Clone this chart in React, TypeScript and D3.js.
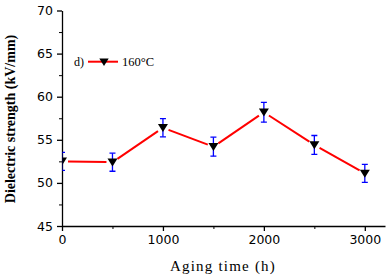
import { useEffect, useRef } from 'react';
import * as d3 from 'd3';

// Aging time (h) vs dielectric strength at 160°C
const agingTimes = [0, 500, 1000, 1500, 2000, 2500, 3000];
const strength = [52.5, 52.4, 56.4, 54.2, 58.2, 54.4, 51.1];
const strengthErr = [1.05, 1.05, 1.05, 1.1, 1.15, 1.1, 1.05];

const xTicks = [0, 1000, 2000, 3000];
const xMinorTicks = [500, 1500, 2500];
const yTicks = [45, 50, 55, 60, 65, 70];
const yMinorTicks = [47.5, 52.5, 57.5, 62.5, 67.5];

const panelLabel = 'd)';
const seriesLabel = '160°C';
const xTitle = 'Aging time (h)';
const yTitle = 'Dielectric strength (kV/mm)';

const W = 390;
const H = 280;
const margin = { top: 10.5, right: 5, bottom: 54, left: 62 };

const tickFont = '"DejaVu Sans", Verdana, sans-serif';
const serifFont = '"Liberation Serif", "Times New Roman", serif';

export default function App() {
  const svgRef = useRef<SVGSVGElement>(null);

  useEffect(() => {
    if (!svgRef.current) return;
    const svg = d3.select(svgRef.current);
    svg.selectAll('*').remove();

    const x = d3.scaleLinear().domain([0, 3200]).range([margin.left, W - margin.right]);
    const y = d3.scaleLinear().domain([45, 70]).range([H - margin.bottom, margin.top]);

    const data = agingTimes.map((t, i) => ({ t, v: strength[i], e: strengthErr[i] }));

    // clip so the first point is cut at the y axis
    svg.append('defs').append('clipPath').attr('id', 'plot-clip')
      .append('rect')
      .attr('x', margin.left + 0.5)
      .attr('y', 0)
      .attr('width', W - margin.left)
      .attr('height', H - margin.bottom);

    // axes
    const xAxis = svg.append('g')
      .attr('transform', `translate(0,${H - margin.bottom})`)
      .call(d3.axisBottom(x).tickValues(xTicks).tickSize(5).tickSizeOuter(0).tickPadding(4).tickFormat(d3.format('d')));
    svg.append('g')
      .attr('transform', `translate(0,${H - margin.bottom})`)
      .call(d3.axisBottom(x).tickValues(xMinorTicks).tickSize(3).tickFormat(() => ''))
      .call(g => g.select('.domain').remove());

    const yAxis = svg.append('g')
      .attr('transform', `translate(${margin.left},0)`)
      .call(d3.axisLeft(y).tickValues(yTicks).tickSize(5).tickSizeOuter(0).tickPadding(4));
    svg.append('g')
      .attr('transform', `translate(${margin.left},0)`)
      .call(d3.axisLeft(y).tickValues(yMinorTicks).tickSize(3).tickFormat(() => ''))
      .call(g => g.select('.domain').remove());

    [xAxis, yAxis].forEach(a => {
      a.selectAll('text')
        .attr('font-family', tickFont)
        .attr('font-size', 12.5)
        .attr('fill', '#000');
      a.selectAll('line, path').attr('stroke', '#000').attr('stroke-width', 1.3);
    });

    // axis titles
    svg.append('text')
      .attr('x', 223)
      .attr('y', 271)
      .attr('text-anchor', 'middle')
      .attr('font-family', serifFont)
      .attr('font-size', 15)
      .attr('letter-spacing', 1.2)
      .text(xTitle);

    svg.append('text')
      .attr('transform', `translate(15,119) rotate(-90)`)
      .attr('text-anchor', 'middle')
      .attr('font-family', serifFont)
      .attr('font-weight', 'bold')
      .attr('font-size', 14)
      .text(yTitle);

    const plot = svg.append('g').attr('clip-path', 'url(#plot-clip)');

    // connecting line, with a small gap round each marker
    const gap = 6;
    d3.pairs(data).forEach(([a, b]) => {
      const x1 = x(a.t), y1 = y(a.v), x2 = x(b.t), y2 = y(b.v);
      const len = Math.hypot(x2 - x1, y2 - y1);
      const ux = (x2 - x1) / len, uy = (y2 - y1) / len;
      plot.append('line')
        .attr('x1', x1 + ux * gap).attr('y1', y1 + uy * gap)
        .attr('x2', x2 - ux * gap).attr('y2', y2 - uy * gap)
        .attr('stroke', '#ff0000')
        .attr('stroke-width', 2);
    });

    // error bars
    const eb = plot.selectAll('.err').data(data).enter().append('g').attr('class', 'err')
      .attr('stroke', '#0000ff').attr('stroke-width', 1.3);
    eb.append('line')
      .attr('x1', d => x(d.t)).attr('x2', d => x(d.t))
      .attr('y1', d => y(d.v + d.e)).attr('y2', d => y(d.v - d.e));
    eb.append('line')
      .attr('x1', d => x(d.t) - 3).attr('x2', d => x(d.t) + 3)
      .attr('y1', d => y(d.v + d.e)).attr('y2', d => y(d.v + d.e));
    eb.append('line')
      .attr('x1', d => x(d.t) - 3).attr('x2', d => x(d.t) + 3)
      .attr('y1', d => y(d.v - d.e)).attr('y2', d => y(d.v - d.e));

    // down-triangle markers
    const tri = (cx: number, cy: number, s = 5) =>
      `M${cx - s},${cy - s * 0.75}L${cx + s},${cy - s * 0.75}L${cx},${cy + s * 0.85}Z`;
    plot.selectAll('.marker').data(data).enter().append('path')
      .attr('class', 'marker')
      .attr('d', d => tri(x(d.t), y(d.v)))
      .attr('fill', '#000');

    // legend
    const leg = svg.append('g');
    leg.append('text')
      .attr('x', 74).attr('y', 66)
      .attr('font-family', serifFont).attr('font-size', 12)
      .text(panelLabel);
    leg.append('line')
      .attr('x1', 88).attr('x2', 118).attr('y1', 61.7).attr('y2', 61.7)
      .attr('stroke', '#ff0000').attr('stroke-width', 2);
    leg.append('path').attr('d', tri(104, 62, 4.7)).attr('fill', '#000');
    leg.append('text')
      .attr('x', 122).attr('y', 66)
      .attr('font-family', serifFont).attr('font-size', 12.5)
      .text(seriesLabel);
  }, []);

  return (
    <svg
      ref={svgRef}
      width={W}
      height={H}
      style={{ position: 'absolute', left: 0, top: 0, background: '#fff' }}
    />
  );
}
